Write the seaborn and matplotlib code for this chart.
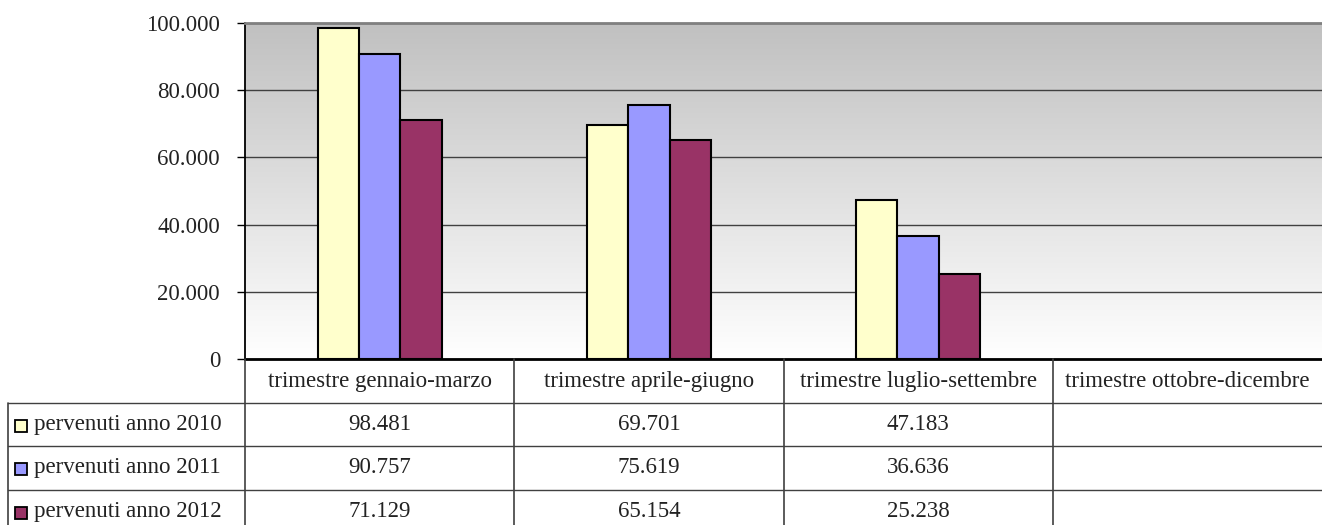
import numpy as np
import pandas as pd
import seaborn as sns
import matplotlib.pyplot as plt
from matplotlib.patches import Rectangle
from matplotlib.colors import LinearSegmentedColormap

# Dati del grafico
trimestri = ['trimestre gennaio-marzo', 'trimestre aprile-giugno',
             'trimestre luglio-settembre', 'trimestre ottobre-dicembre']
serie = ['pervenuti anno 2010', 'pervenuti anno 2011', 'pervenuti anno 2012']
val_2010 = [98481, 69701, 47183, np.nan]
val_2011 = [90757, 75619, 36636, np.nan]
val_2012 = [71129, 65154, 25238, np.nan]
colori = ['#FFFFCC', '#9999FF', '#993366']
y_ticks = [0, 20000, 40000, 60000, 80000, 100000]


def fmt_it(v):
    return f'{v:,.0f}'.replace(',', '.')


df = pd.DataFrame({
    'trimestre': trimestri * 3,
    'serie': np.repeat(serie, len(trimestri)),
    'valore': val_2010 + val_2011 + val_2012,
})

sns.set_style('white')
plt.rcParams['font.family'] = ['Liberation Serif', 'DejaVu Serif']
testo = '#222222'
fs = 16.5

W, H = 1322, 525
fig = plt.figure(figsize=(W / 100, H / 100), dpi=100)
ax = fig.add_axes([245 / W, (H - 359) / H, (W - 245) / W, 336 / H])

# Sfondo sfumato dell'area del grafico
grad = np.linspace(0, 1, 256).reshape(-1, 1)
cmap = LinearSegmentedColormap.from_list('sfondo', ['#ffffff', '#c0c0c0'])
ax.imshow(grad, cmap=cmap, aspect='auto', origin='lower',
          extent=[-0.5, len(trimestri) - 0.5, 0, y_ticks[-1]], zorder=0)

sns.barplot(data=df, x='trimestre', y='valore', hue='serie',
            order=trimestri, hue_order=serie, palette=colori, saturation=1,
            width=0.46, gap=0, errorbar=None, edgecolor='black',
            linewidth=1.5, legend=False, ax=ax, zorder=3)

ax.set_xlim(-0.5, len(trimestri) - 0.5)
ax.set_ylim(0, y_ticks[-1])
ax.set_yticks(y_ticks)
ax.set_yticklabels([fmt_it(t) for t in y_ticks], fontsize=fs, color=testo)
ax.set_xticks([])
ax.set_xlabel('')
ax.set_ylabel('')
ax.yaxis.grid(True, color='#404040', linewidth=1)
ax.set_axisbelow(True)
ax.tick_params(axis='y', left=True, direction='out', length=6, width=1,
               color='black', pad=12)
ax.spines['left'].set_color('black')
ax.spines['left'].set_linewidth(1.3)
ax.spines['bottom'].set_color('black')
ax.spines['bottom'].set_linewidth(2)
ax.spines['top'].set_color('#808080')
ax.spines['top'].set_linewidth(2)
ax.spines['right'].set_visible(False)

# Tabella dati sotto il grafico
row_h = 43.5
tab = fig.add_axes([245 / W, 0, (W - 245) / W, (H - 359) / H])
tab.set_xlim(-0.5, len(trimestri) - 0.5)
n_rows = (H - 359) / row_h
tab.set_ylim(n_rows, 0)
tab.axis('off')
px = (W - 245) / len(trimestri)
xl = -0.5 - (245 - 8) / px
linea = '#404040'

for b in np.arange(len(trimestri)) - 0.5:
    tab.plot([b, b], [0, n_rows], color=linea, lw=1.2, clip_on=False)
tab.plot([xl, xl], [1, n_rows], color=linea, lw=1.2, clip_on=False)
for r in range(1, len(serie) + 1):
    tab.plot([xl, len(trimestri) - 0.5], [r, r], color=linea, lw=1,
             clip_on=False)

for i, t in enumerate(trimestri):
    tab.text(i, 0.52, t, ha='center', va='center', fontsize=fs, color=testo)

for r, (nome, vals, c) in enumerate(zip(serie, [val_2010, val_2011, val_2012], colori)):
    yc = r + 1.5
    kw, kh = 12 / px, 12 / row_h
    tab.add_patch(Rectangle((xl + 7 / px, yc - kh / 2 + 0.04), kw, kh,
                            facecolor=c, edgecolor='black', lw=1.3,
                            clip_on=False))
    tab.text(xl + 26 / px, yc, nome, ha='left', va='center', fontsize=fs,
             color=testo)
    for i, v in enumerate(vals):
        if not np.isnan(v):
            tab.text(i, yc, fmt_it(v), ha='center', va='center', fontsize=fs,
                     color=testo)

fig.savefig('out.png', dpi=100)
